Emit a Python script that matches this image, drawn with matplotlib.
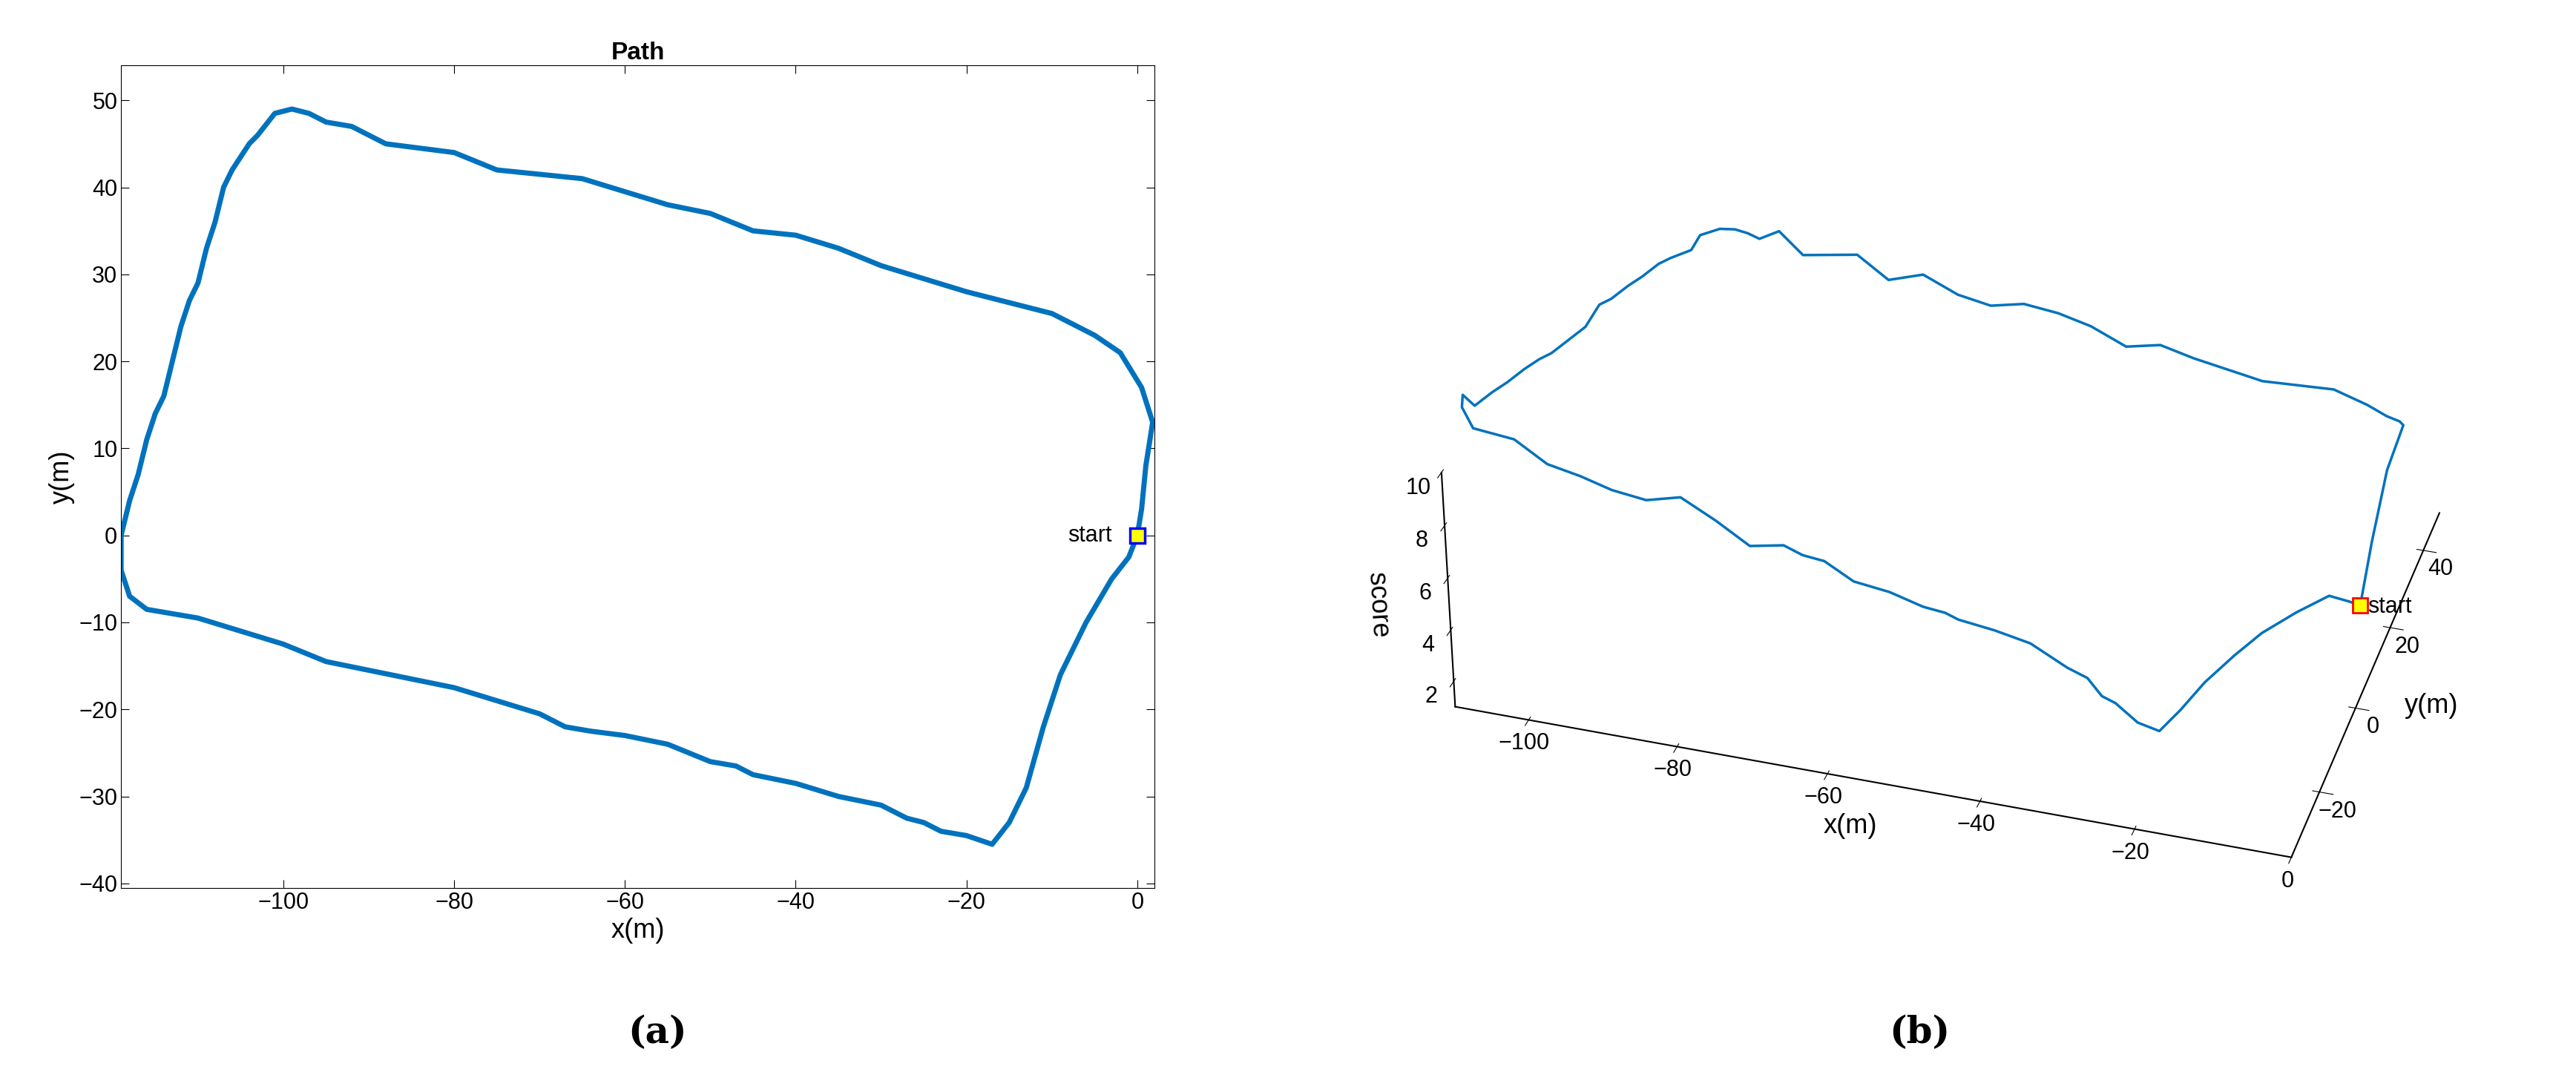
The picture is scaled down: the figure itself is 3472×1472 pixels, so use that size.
import matplotlib
matplotlib.use("Agg")
import matplotlib.pyplot as plt
import numpy as np

plt.rcParams['font.family'] = ['Liberation Sans', 'DejaVu Sans']

path_x = [0,0.5,1,1.8,0.5,-2,-5,-10,-20,-30,-35,-40,-45,-50,-55,-60,-65,-70,-75,-80,-88,-92,-95,-97,-99,-101,-103,-104,-106,-107,-108,-109,-110,-111,-112,-113,-114,-115,-116,-117,-118,-119,-119,-118,-116,-113,-110,-105,-100,-95,-90,-85,-80,-75,-70,-67,-64,-60,-55,-50,-47,-45,-40,-35,-30,-27,-25,-23,-20,-17,-15,-13,-11,-9,-6,-3,-1,0]
path_y = [0,3,8,13,17,21,23,25.5,28,31,33,34.5,35,37,38,39.5,41,41.5,42,44,45,47,47.5,48.5,49,48.5,46,45,42,40,36,33,29,27,24,20,16,14,11,7,4,0,-4,-7,-8.5,-9,-9.5,-11,-12.5,-14.5,-15.5,-16.5,-17.5,-19,-20.5,-22,-22.5,-23,-24,-26,-26.5,-27.5,-28.5,-30,-31,-32.5,-33,-34,-34.5,-35.5,-33,-29,-22,-16,-10,-5,-2.5,0]
score = [5,7,9,10,9.5,9,9,9,8.5,8.5,8.5,8,8.5,8.5,8.5,8,8,8.5,8,8.5,8,8.5,8,8,8,8,8,7.5,7.5,7.5,7.5,7.5,7.5,7.5,7,7,7,7,7,7,7,7,8,8,7.5,7.5,7.5,7,7,7,7,7.5,7,6.5,7,7,7,6.5,6.5,6.5,6.5,6.5,6.5,6.5,6,6,5.5,5.5,5,5,5.5,6,6,6,6,6,5.5,5]

blue = "#0072BD"
fig = plt.figure(figsize=(34.73, 14.72), dpi=100)

ax = fig.add_axes([0.047, 0.187, 0.401, 0.753])
ax.plot(path_x, path_y, color=blue, lw=5)
ax.plot([0], [0], 's', ms=14, mfc='yellow', mec='blue', mew=2.5)
ax.text(-3, 0, 'start', ha='right', va='center', fontsize=22)
ax.set_xlim(-119, 2); ax.set_ylim(-40.5, 54)
ax.set_xticks(range(-100, 1, 20)); ax.set_yticks(range(-40, 51, 10))
ax.tick_params(labelsize=22, direction='in', length=8, top=True, right=True)
ax.set_xlabel('x(m)', fontsize=26); ax.set_ylabel('y(m)', fontsize=26)
ax.set_title('Path', fontsize=24, fontweight='bold')

ax3 = fig.add_axes([0.52, 0.05, 0.47, 0.97], projection='3d')
ax3.plot(path_x, path_y, score, color=blue, lw=2.5)
ax3.plot([0], [0], [5], 's', ms=14, mfc='yellow', mec='red', mew=2)
ax3.text(1, 0, 5, 'start', fontsize=22, va='center')
ax3.set_xlim(-110, 0); ax3.set_ylim(-35, 50); ax3.set_zlim(1, 10)
ax3.set_xticks(range(-100, 1, 20)); ax3.set_yticks([-20, 0, 20, 40]); ax3.set_zticks([2, 4, 6, 8, 10])
ax3.view_init(elev=33, azim=-73)
ax3.set_box_aspect((1.7, 1.25, 0.55))
for a in (ax3.xaxis, ax3.yaxis, ax3.zaxis):
    a.pane.fill = False
    a.pane.set_edgecolor('none')
    a.line.set_color('k')
    a.line.set_linewidth(1.5)
ax3.grid(False)
ax3.zaxis.set_ticks_position('lower')
ax3.zaxis.set_label_position('lower')
ax3.tick_params(labelsize=22)
ax3.set_xlabel('x(m)', fontsize=26, labelpad=20)
ax3.set_ylabel('y(m)', fontsize=26, labelpad=20)
ax3.set_zlabel('score', fontsize=26, labelpad=15)

fig.text(0.255, 0.045, '(a)', fontsize=36, fontweight='bold', family='DejaVu Serif', ha='center')
fig.text(0.745, 0.045, '(b)', fontsize=36, fontweight='bold', family='DejaVu Serif', ha='center')
fig.savefig('out.png', dpi=100)
